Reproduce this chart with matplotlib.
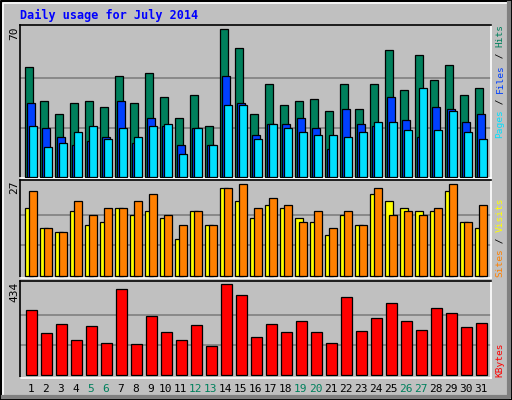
import numpy as np
import matplotlib.pyplot as plt
from matplotlib.lines import Line2D

days = np.arange(1, 32)
hits = [52, 36, 30, 35, 36, 33, 48, 35, 49, 38, 28, 39, 24, 70, 61, 30,
        44, 34, 36, 37, 31, 44, 32, 44, 60, 41, 58, 46, 53, 39, 42]
files = [35, 23, 19, 15, 17, 19, 36, 16, 28, 24, 15, 23, 15, 48, 35, 20,
         25, 25, 28, 23, 13, 32, 25, 24, 38, 27, 19, 33, 32, 26, 30]
pages = [24, 14, 16, 21, 24, 18, 23, 19, 24, 25, 11, 23, 15, 34, 34, 18,
         25, 23, 21, 20, 20, 19, 21, 26, 26, 22, 42, 22, 31, 21, 18]
sites = [20, 14, 13, 19, 15, 16, 20, 18, 19, 17, 11, 19, 15, 26, 22, 17,
         21, 20, 17, 16, 12, 18, 15, 24, 22, 20, 19, 19, 25, 16, 14]
visits = [25, 14, 13, 22, 18, 20, 20, 22, 24, 18, 15, 19, 15, 26, 27, 20,
          23, 21, 16, 19, 14, 19, 15, 26, 18, 19, 18, 20, 27, 16, 21]
kbytes = [310, 200, 243, 167, 234, 153, 410, 148, 281, 205, 167, 238, 138, 434,
          382, 181, 243, 205, 258, 205, 153, 372, 210, 272, 343, 258, 215, 320,
          296, 229, 248]
weekends = [5, 6, 12, 13, 19, 20, 26, 27]

BG = "#C0C0C0"
C_HITS, C_FILES, C_PAGES = "#00805C", "#0040FF", "#00E0FF"
C_SITES, C_VISITS, C_KB = "#FFFF00", "#FF8000", "#FF0000"
W, H = 512, 400
PX = 15.0  # pixels per day

fig = plt.figure(figsize=(W / 100, H / 100), dpi=100, facecolor=BG)

def add_ax(y0, y1):
    ax = fig.add_axes([20 / W, 1 - y1 / H, 471 / W, (y1 - y0) / H], facecolor=BG)
    x0 = 1 - 5.3 / PX
    ax.set_xlim(x0, x0 + 471 / PX)
    for s in ("left", "top"):
        ax.spines[s].set_color("black")
    for s in ("right", "bottom"):
        ax.spines[s].set_color("white")
    for s in ax.spines.values():
        s.set_linewidth(1.2)
    ax.set_xticks([])
    ax.set_yticks([])
    return ax

def grid(ax, top):
    for f in (1 / 3, 2 / 3):
        ax.axhline(top * f, color="#808080", lw=1.2, zorder=1)

bw = 7.3 / PX
kw = dict(align="edge", edgecolor="black", linewidth=0.9, zorder=3)

ax1 = add_ax(25, 178)
ax1.set_ylim(-0.6, 72.0)
grid(ax1, 70)
ax1.bar(days, hits, bw, color=C_HITS, **kw)
ax1.bar(days + 2 / PX, files, bw, color=C_FILES, **kw)
ax1.bar(days + 4 / PX, pages, bw, color=C_PAGES, **kw)

ax2 = add_ax(180, 278)
ax2.set_ylim(-0.59, 28.26)
grid(ax2, 27)
ax2.bar(days, sites, bw, color=C_SITES, **kw)
ax2.bar(days + 4 / PX, visits, bw, color=C_VISITS, **kw)

ax3 = add_ax(281, 378)
ax3.set_ylim(-12.9, 449.7)
grid(ax3, 434)
ax3.bar(days + 1 / PX, kbytes, 10.3 / PX, color=C_KB, **kw)
ax3.set_xticks(days + 5.5 / PX)
ax3.set_xticklabels([str(d) for d in days], fontsize=8, family="DejaVu Sans Mono")
ax3.tick_params(axis="x", length=0, pad=4)
for d, lab in zip(days, ax3.get_xticklabels()):
    lab.set_color(C_HITS if d in weekends else "black")

def ftext(x, y, s, **k):
    fig.text(x / W, 1 - y / H, s, family="DejaVu Sans Mono", **k)

ftext(20, 15, "Daily usage for July 2014", color="#0000FF", fontsize=8.5,
      fontweight="bold", ha="left", va="center")
ftext(14, 33, "70", rotation=90, fontsize=8, ha="center", va="center")
ftext(14, 187, "27", rotation=90, fontsize=8, ha="center", va="center")
ftext(14, 292, "434", rotation=90, fontsize=8, ha="center", va="center")

# right-hand legends, read bottom to top
FS_SIDE = 6.8
STEP = 0.602 * FS_SIDE * 100 / 72

def side(parts, y_bottom):
    y = y_bottom
    for s, c in parts:
        n = len(s)
        ftext(500, y - n * STEP / 2, s, color=c, rotation=90, fontsize=FS_SIDE,
              ha="center", va="center")
        y -= n * STEP

side([("Pages", C_PAGES), (" / ", "black"), ("Files", C_FILES),
      (" / ", "black"), ("Hits", C_HITS)], 138)
side([("Sites", C_VISITS), (" / ", "black"), ("Visits", C_SITES)], 277)
side([("KBytes", C_KB)], 377)

# frame bevel
fig.add_artist(Line2D([0.5 / W, 0.5 / W, 1 - 0.5 / W, 1 - 0.5 / W, 0.5 / W],
                      [0.5 / H, 1 - 0.5 / H, 1 - 0.5 / H, 0.5 / H, 0.5 / H],
                      color="black", lw=1.5, transform=fig.transFigure))
fig.add_artist(Line2D([2.5 / W, 2.5 / W, 1 - 4 / W], [4 / H, 1 - 2.5 / H, 1 - 2.5 / H],
                      color="white", lw=1.2, transform=fig.transFigure))
fig.add_artist(Line2D([2.5 / W, 1 - 3 / W, 1 - 3 / W], [3 / H, 3 / H, 1 - 3 / H],
                      color="#808080", lw=3, transform=fig.transFigure))

fig.savefig("out.png", dpi=100, facecolor=BG)
